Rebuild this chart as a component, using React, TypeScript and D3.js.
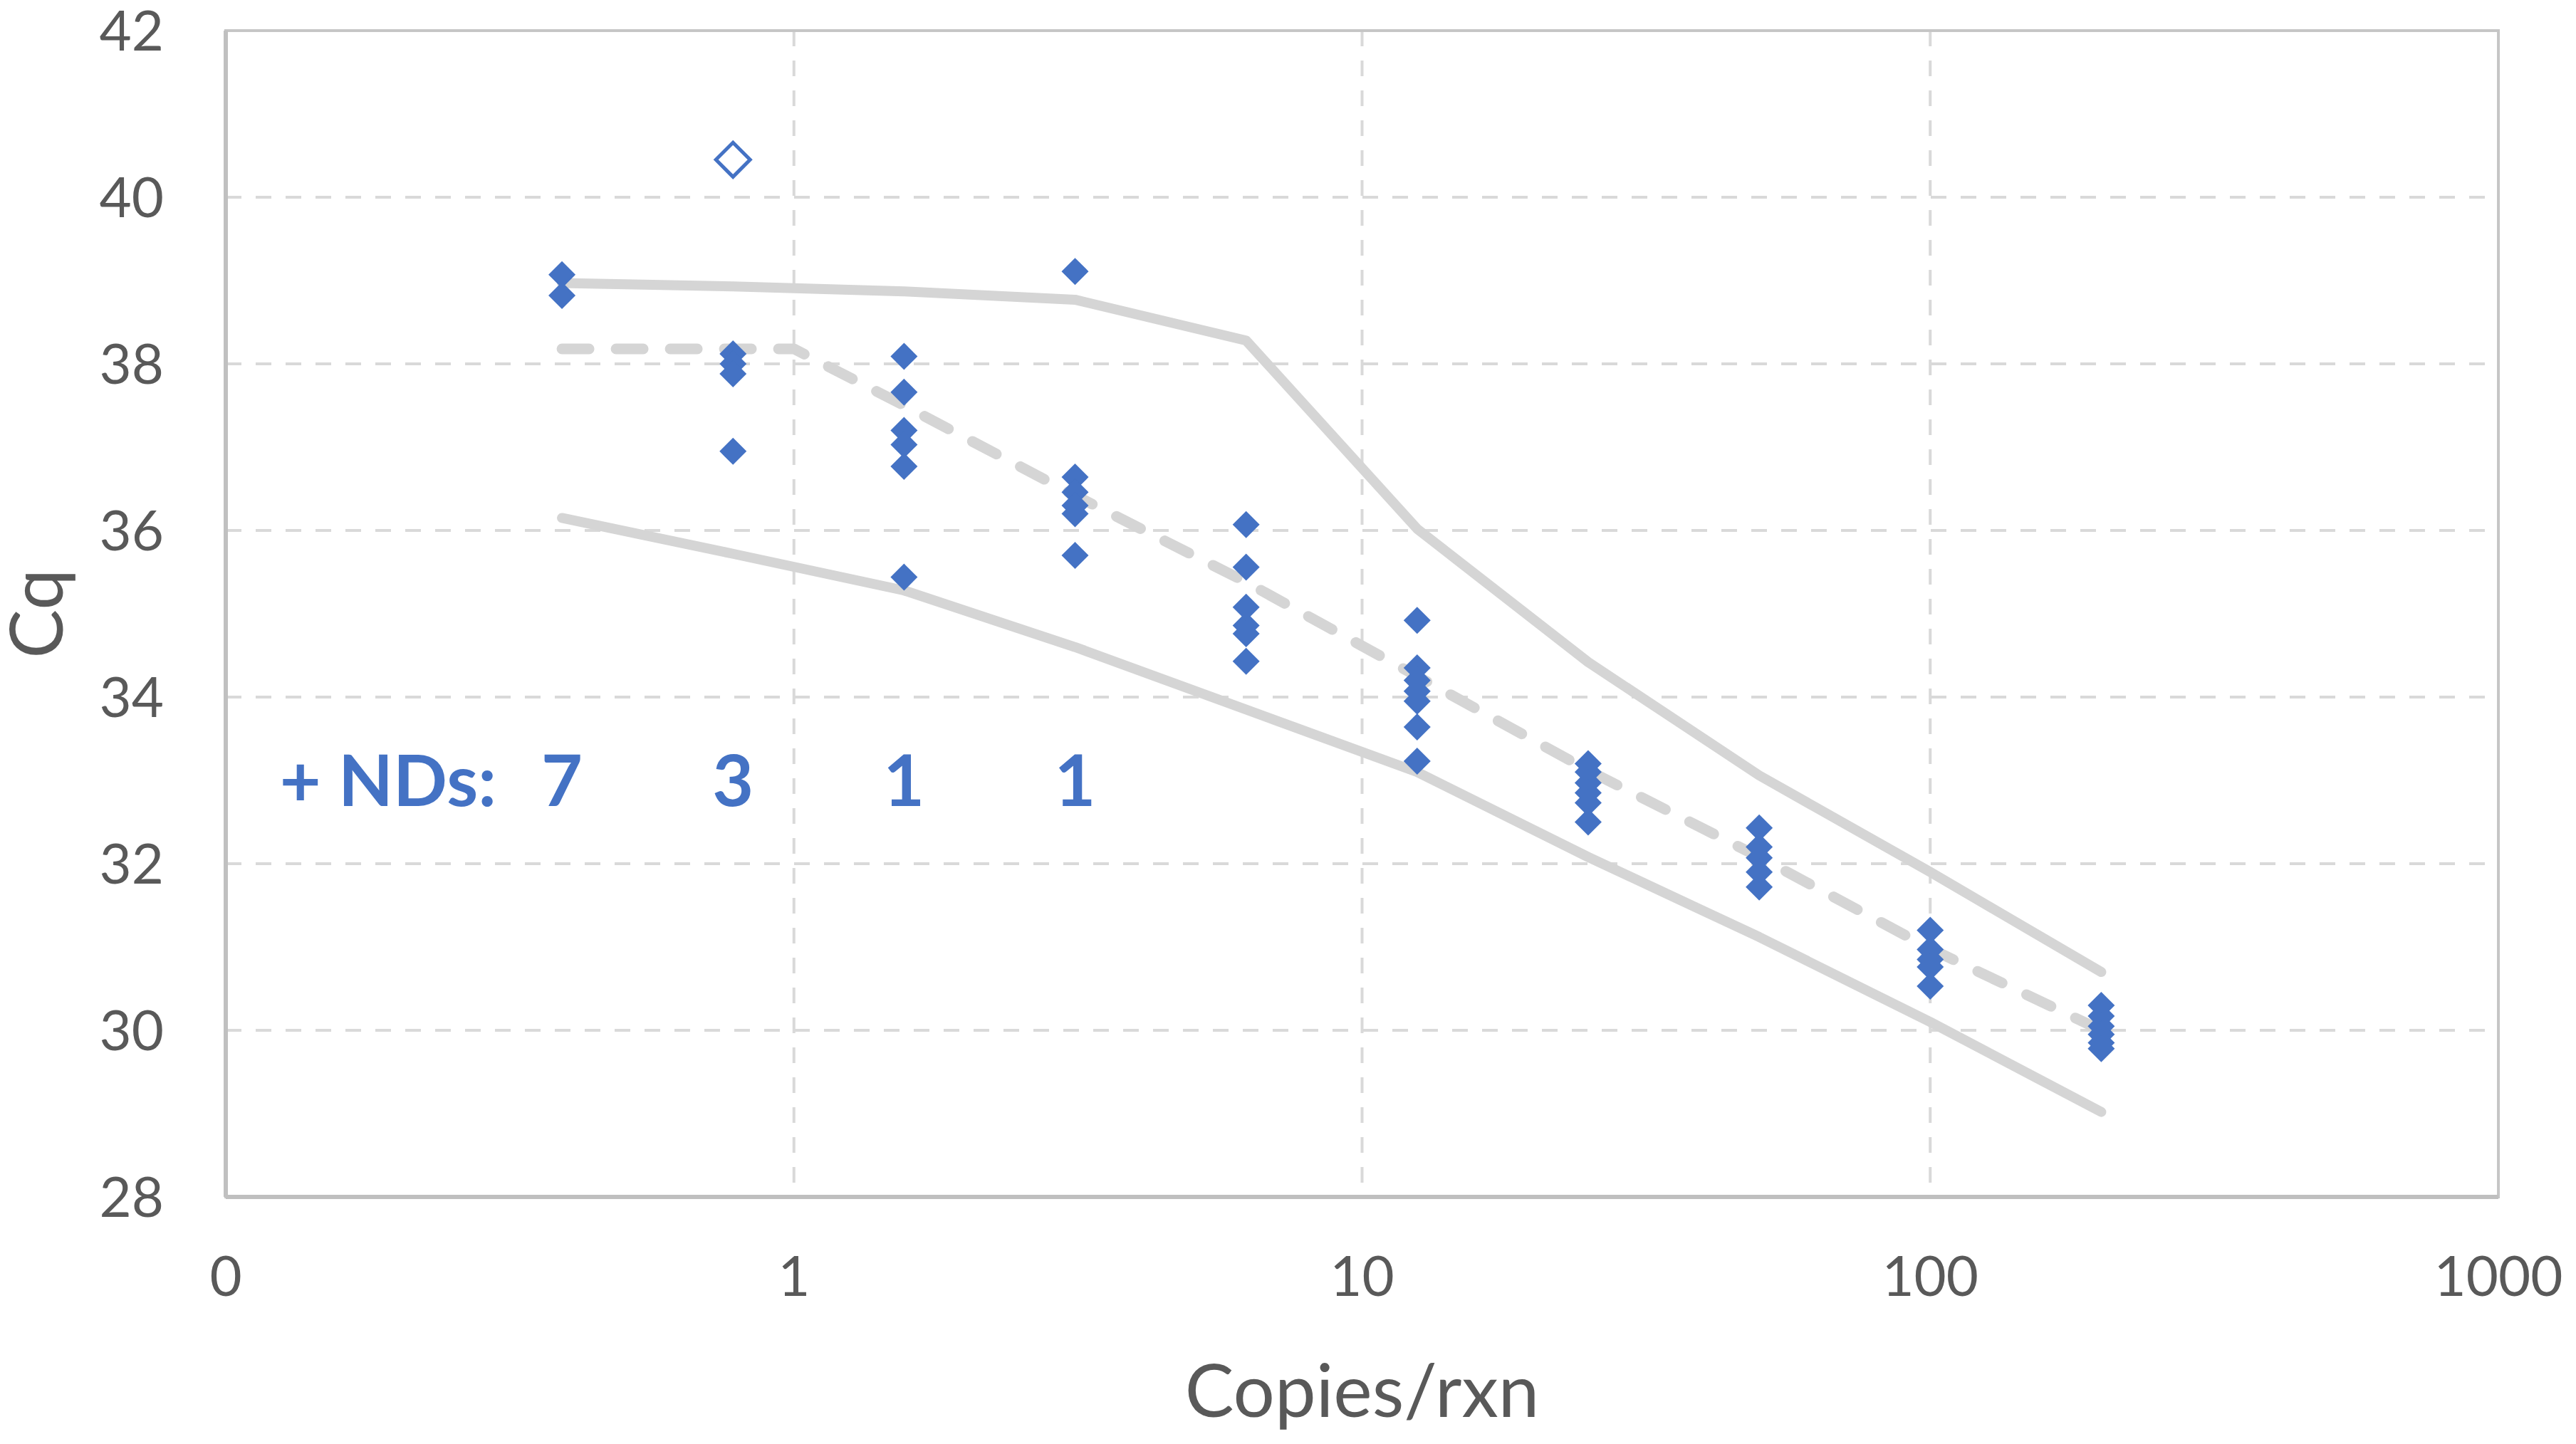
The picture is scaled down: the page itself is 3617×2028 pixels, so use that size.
import React from "react";
import * as d3 from "d3";

const W = 3617;
const H = 2028;

const concentrations = [0.390625, 0.78125, 1.5625, 3.125, 6.25, 12.5, 25, 50, 100, 200];
const cqByConcentration = [
  [39.07, 38.82],
  [38.12, 38.0, 37.88, 36.95],
  [38.09, 37.66, 37.2, 37.03, 36.77, 35.44],
  [39.11, 36.64, 36.46, 36.3, 36.2, 35.7],
  [36.07, 35.56, 35.08, 34.86, 34.76, 34.43],
  [34.92, 34.35, 34.2, 34.07, 33.95, 33.64, 33.23],
  [33.2, 33.1, 32.97, 32.85, 32.73, 32.5],
  [32.43, 32.2, 32.07, 31.9, 31.72],
  [31.2, 30.97, 30.85, 30.76, 30.53],
  [30.3, 30.17, 30.05, 29.95, 29.85, 29.78],
];
const outlierX = [0.78125];
const outlierCq = [40.45];

const upperBound = [38.97, 38.93, 38.87, 38.77, 38.28, 36.02, 34.42, 33.06, 31.9, 30.7];
const lowerBound = [36.15, 35.72, 35.28, 34.6, 33.85, 33.1, 32.08, 31.12, 30.1, 29.02];
const fitX = [0.390625, 1, 1.5625, 3.125, 6.25, 12.5, 25, 50, 100, 200];
const fitCq = [38.18, 38.18, 37.5, 36.42, 35.38, 34.25, 33.12, 32.08, 30.98, 30.0];

const ndCounts = ["7", "3", "1", "1"];

const yTicks = [28, 30, 32, 34, 36, 38, 40, 42];
const xTicks = [0.1, 1, 10, 100, 1000];
const xTickLabels = ["0", "1", "10", "100", "1000"];

const FONT = "Lato, 'Open Sans', sans-serif";
const BLUE = "#4472C4";
const GRID = "#d9d9d9";
const LINE = "#d5d5d5";
const TEXT = "#595959";

export default function App() {
  const left = 317, right = 3508, top = 43, bottom = 1681;
  const x = d3.scaleLog().domain([0.1, 1000]).range([left, right]);
  const y = d3.scaleLinear().domain([28, 42]).range([bottom, top]);

  const line = d3
    .line<[number, number]>()
    .x((d) => x(d[0]))
    .y((d) => y(d[1]));

  const upperPath = line(concentrations.map((c, i) => [c, upperBound[i]]))!;
  const lowerPath = line(concentrations.map((c, i) => [c, lowerBound[i]]))!;
  const fitPath = line(fitX.map((c, i) => [c, fitCq[i]]))!;

  const diamond = (cx: number, cy: number, r: number) =>
    `M${cx},${cy - r}L${cx + r},${cy}L${cx},${cy + r}L${cx - r},${cy}Z`;

  const points: { cx: number; cy: number }[] = [];
  concentrations.forEach((c, i) => {
    cqByConcentration[i].forEach((v) => points.push({ cx: x(c), cy: y(v) }));
  });

  return (
    <svg
      width={W}
      height={H}
      style={{ position: "absolute", left: 0, top: 0, background: "#fff" }}
    >
      <rect x={0} y={0} width={W} height={H} fill="#fff" />
      {yTicks
        .filter((t) => t > 28 && t < 42)
        .map((t) => (
          <line
            key={"hg" + t}
            x1={left}
            x2={right}
            y1={y(t)}
            y2={y(t)}
            stroke={GRID}
            strokeWidth={4}
            strokeDasharray="22 20"
          />
        ))}
      {xTicks
        .filter((t) => t > 0.1 && t < 1000)
        .map((t) => (
          <line
            key={"vg" + t}
            x1={x(t)}
            x2={x(t)}
            y1={top}
            y2={bottom}
            stroke={GRID}
            strokeWidth={4}
            strokeDasharray="22 20"
          />
        ))}
      <rect
        x={left}
        y={top}
        width={right - left}
        height={bottom - top}
        fill="none"
        stroke="#c6c6c6"
        strokeWidth={4}
      />
      <line x1={left} x2={right} y1={bottom} y2={bottom} stroke="#bfbfbf" strokeWidth={6} />
      <line x1={left} x2={left} y1={top} y2={bottom} stroke="#c0c0c0" strokeWidth={6} />

      <path d={upperPath} fill="none" stroke={LINE} strokeWidth={14} strokeLinecap="round" strokeLinejoin="round" />
      <path d={lowerPath} fill="none" stroke={LINE} strokeWidth={14} strokeLinecap="round" strokeLinejoin="round" />
      <path
        d={fitPath}
        fill="none"
        stroke={LINE}
        strokeWidth={15}
        strokeLinecap="round"
        strokeLinejoin="round"
        strokeDasharray="38 38"
      />

      {points.map((p, i) => (
        <path key={"p" + i} d={diamond(p.cx, p.cy, 19)} fill={BLUE} />
      ))}
      {outlierX.map((c, i) => (
        <path
          key={"o" + i}
          d={diamond(x(c), y(outlierCq[i]), 24)}
          fill="#fff"
          stroke={BLUE}
          strokeWidth={5}
        />
      ))}

      <text x={697} y={1132} textAnchor="end" fontFamily={FONT} fontWeight={700} fontSize={100} fill={BLUE}>
        + NDs:
      </text>
      {ndCounts.map((n, i) => (
        <text
          key={"nd" + i}
          x={x(concentrations[i])}
          y={1132}
          textAnchor="middle"
          fontFamily={FONT}
          fontWeight={700}
          fontSize={100}
          fill={BLUE}
        >
          {n}
        </text>
      ))}

      {yTicks.map((t) => (
        <text
          key={"yt" + t}
          x={230}
          y={y(t)}
          dy="0.36em"
          textAnchor="end"
          fontFamily={FONT}
          fontSize={78}
          fill={TEXT}
        >
          {t}
        </text>
      ))}
      {xTicks.map((t, i) => (
        <text
          key={"xt" + t}
          x={x(t)}
          y={1820}
          textAnchor="middle"
          fontFamily={FONT}
          fontSize={78}
          fill={TEXT}
        >
          {xTickLabels[i]}
        </text>
      ))}

      <text
        x={(left + right) / 2}
        y={1990}
        textAnchor="middle"
        fontFamily={FONT}
        fontSize={103}
        fill={TEXT}
      >
        Copies/rxn
      </text>
      <text
        transform={`translate(88, 862) rotate(-90)`}
        textAnchor="middle"
        fontFamily={FONT}
        fontSize={103}
        fill={TEXT}
      >
        Cq
      </text>
    </svg>
  );
}
